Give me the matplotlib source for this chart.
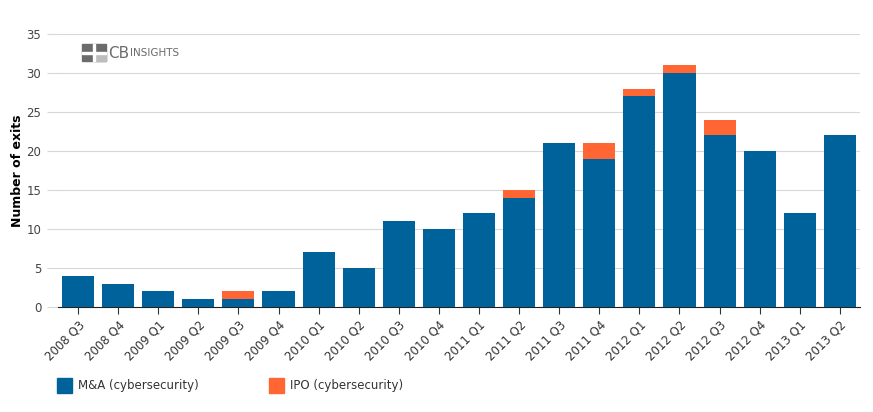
import numpy as np
import matplotlib
matplotlib.use("Agg")
import matplotlib.pyplot as plt
from matplotlib.patches import Rectangle

# Quarterly cybersecurity exits
quarters = ["2008 Q3", "2008 Q4", "2009 Q1", "2009 Q2", "2009 Q3", "2009 Q4",
            "2010 Q1", "2010 Q2", "2010 Q3", "2010 Q4", "2011 Q1", "2011 Q2",
            "2011 Q3", "2011 Q4", "2012 Q1", "2012 Q2", "2012 Q3", "2012 Q4",
            "2013 Q1", "2013 Q2"]
ma = [4, 3, 2, 1, 1, 2, 7, 5, 11, 10, 12, 14, 21, 19, 27, 30, 22, 20, 12, 22]
ipo = [0, 0, 0, 0, 1, 0, 0, 0, 0, 0, 0, 1, 0, 2, 1, 1, 2, 0, 0, 0]
yticks = [0, 5, 10, 15, 20, 25, 30, 35]

blue = "#00629b"
orange = "#ff6633"

fig = plt.figure(figsize=(8.73, 4.12), dpi=100)
ax = fig.add_axes([0.0664, 0.255, 0.9186, 0.6625])

x = np.arange(len(quarters))
ax.bar(x, ma, width=0.8, color=blue, zorder=3)
ax.bar(x, ipo, width=0.8, bottom=ma, color=orange, zorder=3)

ax.set_xlim(-0.5, len(quarters) - 0.5)
ax.set_ylim(0, 35)
ax.set_yticks(yticks)
ax.yaxis.grid(True, color="#d8d8d8", linewidth=0.8, zorder=0)
ax.set_xticks(x)
ax.set_xticklabels(quarters, rotation=45, ha="right", rotation_mode="anchor",
                   fontsize=8.5, color="#333333")
ax.tick_params(axis="y", labelsize=8.5, labelcolor="#444444", length=8,
               color="#d8d8d8", pad=4)
ax.tick_params(axis="x", length=5, color="#333333", pad=3)
for s in ["top", "right", "left"]:
    ax.spines[s].set_visible(False)
ax.spines["bottom"].set_color("#222222")
ax.set_ylabel("Number of exits", fontsize=9, fontweight="bold")
ax.yaxis.set_label_coords(-0.042, 0.5)

# logo
grey = "#6b6b6b"
fig.patches.append(Rectangle((82 / 873, 1 - 61 / 412), 24 / 873, 17 / 412,
                             transform=fig.transFigure, color=grey))
fig.patches.append(Rectangle((95 / 873, 1 - 61 / 412), 11 / 873, 8 / 412,
                             transform=fig.transFigure, color="#bdbdbd"))
fig.patches.append(Rectangle((93 / 873, 1 - 61 / 412), 2 / 873, 17 / 412,
                             transform=fig.transFigure, color="white"))
fig.patches.append(Rectangle((82 / 873, 1 - 54 / 412), 24 / 873, 2 / 412,
                             transform=fig.transFigure, color="white"))
fig.text(108 / 873, 1 - 53 / 412, "CB", fontsize=11, color=grey, va="center")
fig.text(130 / 873, 1 - 53.5 / 412, "INSIGHTS", fontsize=7.5, color=grey, va="center")

# legend
fig.patches.append(Rectangle((57 / 873, 1 - 393 / 412), 15 / 873, 15 / 412,
                             transform=fig.transFigure, color=blue))
fig.text(78 / 873, 1 - 386 / 412, "M&A (cybersecurity)", fontsize=8.5,
         color="#333333", va="center")
fig.patches.append(Rectangle((269 / 873, 1 - 393 / 412), 15 / 873, 15 / 412,
                             transform=fig.transFigure, color=orange))
fig.text(290 / 873, 1 - 386 / 412, "IPO (cybersecurity)", fontsize=8.5,
         color="#333333", va="center")

fig.savefig("out.png", dpi=100)
